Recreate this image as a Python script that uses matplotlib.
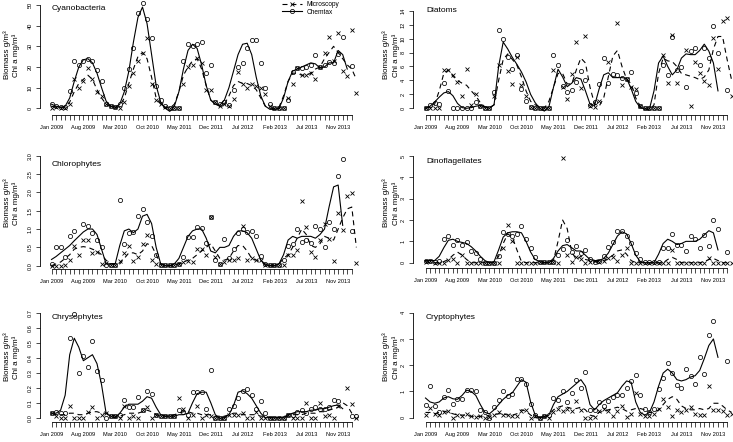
import numpy as np
import matplotlib
matplotlib.use('Agg')
import matplotlib.pyplot as plt
from matplotlib.lines import Line2D

plt.rcParams['font.family'] = ['Liberation Sans', 'DejaVu Sans']

nan = np.nan

# ---------------- data ----------------
tick_labels = ["Jan 2009", "Aug 2009", "Mar 2010", "Oct 2010", "May 2011",
               "Dec 2011", "Jul 2012", "Feb 2013", "Jul 2013", "Nov 2013"]
label_every = 7
n_ticks = 67

cy_chem = [2, 1, 0.5, 0.5, 8.6, 23, 21, 23, 24, 23,
           18.5, 13, 2, 1, 0.5, 2, 10, 19, 29, 46,
           51, 43, 34, 11, 4, 1, 0, 0, 0, 23,
           31, 30, 31, 32, 17, 21, 3, 2, 3, 1.5,
           9, 20, 22, 29, 33, 33, 22, 10, 2, 0,
           0, 0, 4, 17.5, 19.5, 19.5, 20, 21, 26, 20,
           21, 22.5, 22, 26.5, 34.5, nan, 20.5, nan]
cy_micro = [0.3, 0.5, 0.2, 0.3, 2, 14, 10, 13, 19.5, 14,
            8, 6, 2, 1, 0.5, 0, 3, 11, 17, 23,
            27, 34, 12, 4, 2, 0.5, 0, 0, 0, 12,
            20, 21, 24.5, 22, 9, 9, 3, 1, 2, 1,
            4.4, 17.5, 12, 10, 12, 11, 10, 7, 1, 0,
            0, 0, 5, 12, 19.5, 16, 16, 17, 14, 20,
            27, 34.5, 23, 36.5, 18, 15.5, 38, 7.5]
cy_chem_line = [2, 1, 0.5, 1, 5, 13, 20, 23.5, 24, 22,
                17, 10, 3.5, 1, 0.5, 2, 8, 18, 32, 44,
                49, 41, 26, 11, 3, 0, -1.5, 1, 8, 19,
                28, 31, 29, 21, 11, 4, 2, 1.5, 4, 10,
                18, 26, 31, 31.5, 26, 15, 6, 1, -0.5, -0.5,
                0, 5, 13, 18, 19, 20, 21, 22, 21.5, 19.5,
                20, 22, 22, 28, 26, 19, nan, nan]
cy_micro_line = [1, 0.5, 0.5, 0.5, 3, 8, 12, 14, 16, 14,
                 9, 5, 2, 1, 0, 1, 5, 12, 19, 25,
                 27, 24, 15, 5, 2, 0.5, 0, 2, 8, 16,
                 20, 23, 24, 19, 11, 4, 2, 1, 2, 6,
                 11, 13, 12, 12, 11, 9, 5, 1, 0, 0,
                 0.5, 6, 13, 17, 17, 16, 16, 17, 19, 20,
                 24, 27, 30, 27, 24, 21, 19, 14]

dia_chem = [0, 0.5, 0.7, 0.6, 3.7, 2.5, 0, 0, 0, 0,
            0, 0.9, 0.3, 0, 0, 2.3, 11.2, 9.9, 7.3, 5.7,
            7.7, 2.7, 1.1, 0.2, 0, 0, 0, 0, 7.7, 6.2,
            3.2, 2.4, 2.6, 3.8, 5.3, 4.0, 0.5, 0.9, 3.5, 7.2,
            3.7, 4.9, 4.8, 4.3, 4.2, 5.2, 2.2, 0.4, 0, 0,
            0, 0, 6.2, 4.8, 10.2, 5.5, 5.9, 3.0, 8.2, 8.7,
            6.2, 8.6, 7.2, 11.8, 8.0, nan, 2.6, nan]
dia_micro = [0, 0, 0, 0, 5.5, 5.5, 4.8, 3.8, 1.7, 5.7,
             0.5, 2.0, 0.3, 0, 0, 1.8, 6.2, nan, 5.3, 3.5,
             7.4, 3.3, 1.7, 0.2, 0, 0, 0, 0, 5.5, nan,
             3.1, 1.4, 4.9, 9.5, 2.9, 10.4, 0.3, 0.2, 1.0, nan,
             6.7, nan, 12.3, 3.3, 4.2, 3.0, 2.7, 0.3, 0, 0,
             0, 0, 7.6, 3.6, 10.5, 3.6, nan, 8.4, 0.4, 6.6,
             5.1, 3.9, 3.3, 10.1, 5.6, 12.5, 13.0, 1.7]
dia_chem_line = [0, 0.3, 0.9, 1.6, 2.2, 2.4, 1.8, 0.7, 0.1, 0,
                 0.1, 0.3, 0.4, 0.2, 0, 0.5, 6, 9.5, 8.5, 7.3,
                 6.3, 5.2, 3.8, 2, 0.8, 0, -0.4, 0.2, 3, 5.6,
                 4.5, 3.1, 3.6, 4.4, 4.2, 2.5, 0.6, 0.4, 2.8, 4.8,
                 5.1, 4.4, 4.4, 4.4, 4.3, 2.8, 1.0, 0.1, -0.1, -0.1,
                 2.5, 6.5, 7.5, 6.0, 4.8, 5.5, 7.2, 7.8, 7.7, 7.7,
                 8.3, 9.2, 8.2, 6.5, 2.5, nan, nan, nan]
dia_micro_line = [0, 0.2, 0.6, 2.5, 5.0, 5.5, 4.6, 4.0, 3.6, 3.3,
                  2.5, 1.8, 0.8, 0.2, 0.1, 0.5, 4, 7.0, 7.8, 7,
                  6.2, 4.5, 2.5, 1, 0.5, 0.2, 0, 1, 3, 5,
                  5, 3.5, 3.5, 5.5, 7.2, 6.5, 3, 0.6, 0.3, 1.5,
                  4.5, 7.5, 8.3, 6, 4.2, 3.5, 1.5, 0.3, 0, -0.3,
                  0.5, 5, 7.2, 6.8, 6.7, 6, 5, 4.8, 4.6, 4.4,
                  4.1, 4.5, 5.5, 8.5, 10.3, 10.3, 7, 4]

chl_chem = [0.05, 0.5, 0.5, 0.25, 0.8, 0.95, nan, 1.15, 1.08, 0.88,
            0.7, 0.5, 0.03, 0.03, 0.03, 1.78, 0.6, 0.9, 0.92, 1.35,
            1.55, 1.2, 0.82, 0.3, 0.02, 0.02, 0.02, 0.02, 0.05, 0.25,
            0.78, 0.78, 1.05, 1.03, 0.63, 1.33, 0.15, 0.05, 0.72, 0.2,
            0.45, 0.9, 1.0, 0.93, 0.95, 0.8, 0.27, 0.05, 0.03, 0.03,
            0.03, 0.15, 0.55, 0.6, 1.0, 0.65, 0.7, 0.62, 1.08, 1.0,
            0.5, 1.2, 1.0, 2.45, 2.9, nan, 0.95, nan]
chl_micro = [0.0, 0.0, 0.0, 0.03, 0.15, 0.55, 0.3, 0.7, 0.7, 0.35,
             0.38, 0.05, 0.08, 0.03, 0.03, 0.12, 0.35, 0.55, 0.12, 0.25,
             0.6, 0.85, 0.15, 0.05, 0.02, 0.02, 0.02, 0.02, 0.05, 0.1,
             0.12, 0.1, 0.45, 0.45, 0.3, 1.33, 0.25, 0.05, 0.1, 0.15,
             0.15, 0.2, 1.08, 0.15, 0.2, 0.15, 0.15, 0.03, 0.03, 0.03,
             0.03, 0.02, 0.3, 0.3, 0.42, 1.77, 1.05, 0.38, 0.25, 0.7,
             1.15, 0.72, 0.12, 1.45, 0.98, 1.9, 1.97, 0.08]
chl_chem_line = [0.17, 0.25, 0.35, 0.45, 0.55, 0.68, 0.8, 0.92, 1.0, 1.0,
                 0.85, 0.45, 0.05, 0.05, 0.05, 0.55, 0.95, 1.0, 0.9, 1.0,
                 1.35, 1.4, 1.15, 0.5, 0.05, 0.0, 0.0, 0.05, 0.2, 0.5,
                 0.8, 0.95, 1.0, 1.0, 0.75, 0.4, 0.35, 0.5, 0.5, 0.55,
                 0.8, 0.95, 0.95, 0.9, 0.75, 0.45, 0.15, 0.02, 0.0, 0.0,
                 0.05, 0.3, 0.7, 0.8, 0.75, 0.8, 0.8, 0.8, 0.75, 0.85,
                 1.0, 1.6, 2.15, 2.2, 1.1, nan, nan, nan]
chl_micro_line = [0.0, 0.05, 0.1, 0.2, 0.3, 0.45, 0.5, 0.52, 0.5, 0.45,
                  0.4, 0.3, 0.15, 0.05, 0.05, 0.05, 0.2, 0.35, 0.35, 0.3,
                  0.4, 0.6, 0.55, 0.3, 0.05, 0, 0, 0.02, 0.05, 0.1,
                  0.15, 0.2, 0.3, 0.4, 0.5, 0.6, 0.4, 0.2, 0.15, 0.2,
                  0.4, 0.55, 0.55, 0.4, 0.2, 0.15, 0.1, 0.05, 0.02, 0.0,
                  0.05, 0.2, 0.3, 0.5, 0.75, 1.0, 0.85, 0.55, 0.5, 0.6,
                  0.8, 0.75, 0.7, 1.0, 1.3, 1.55, 1.6, 0.5]

din_chem = [0.1, 0.1, 0.05, 0.08, 1.1, 1.27, 0.85, 1.05, 0.85, 0.95,
            0.55, 0.45, 0.15, 0.0, 0.0, 0.0, 0.3, 1.45, 1.35, 1.25,
            1.35, 1.7, 1.1, 0.7, 0.25, 0.05, 0.05, 0.05, 0.05, 0.35,
            0.65, 1.05, 0.5, 0.8, 0.45, 0.6, 0.15, 0.05, 0.1, 0.3,
            0.75, 0.95, 1.5, 1.5, 1.25, 0.9, 0.45, 0.15, 0.05, 0.05,
            0.05, 0.05, 0.7, 0.7, 1.35, 0.85, 0.85, 0.55, 1.25, 1.1,
            0.7, 1.3, 0.8, 2.0, 1.6, nan, 0.5, nan]
din_micro = [0.05, 0.1, 0.0, 0.0, 0.0, 0.12, 0.15, 0.0, 0.35, 0.0,
             0.0, 0.0, 0.0, 0.0, 0.0, 0.0, 0.0, 0.7, 1.75, 1.0,
             0.0, 0.0, 0.0, 0.0, 0.0, 0.05, 0.05, 0.05, 0.05, 0.0,
             4.9, 0.35, 0.05, 0.25, 0.15, 0.0, 0.05, 0.1, 0.05, 0.1,
             0.2, 0.25, 0.1, 0.35, 0.7, 0.0, 0.0, 0.0, 0.0, 0.0,
             0.0, 0.0, 0.0, 0.0, 0.6, 0.0, 0.0, 0.0, 0.0, 0.0,
             0.0, 0.0, 0.2, 0.0, 0.0, 0.0, 0.0, 0.0]
din_chem_line = [0.1, 0.1, 0.1, 0.3, 0.7, 1.05, 1.1, 1.0, 0.95, 0.9,
                 0.75, 0.55, 0.3, 0.1, 0.0, 0.05, 0.6, 1.2, 1.4, 1.45,
                 1.45, 1.4, 1.0, 0.5, 0.15, 0.05, 0, 0, 0.2, 0.55,
                 0.8, 0.85, 0.7, 0.55, 0.55, 0.35, 0.15, 0.1, 0.1, 0.2,
                 0.45, 0.85, 1.25, 1.45, 1.35, 0.9, 0.35, 0.05, 0, 0,
                 0, 0.4, 0.9, 1.1, 1.0, 0.85, 0.9, 1.0, 1.0, 1.0,
                 1.1, 1.3, 1.5, 1.4, 0.6, nan, nan, nan]
din_micro_line = [0.05, 0, 0, 0, 0.05, 0.15, 0.35, 0.5, 0.35, 0.15,
                  0, 0, 0, 0, 0, 0, 0.3, 0.9, 1.35, 1.2,
                  0.6, 0.05, 0, 0, 0, 0, 0, 0.02, 0.1, 1.0,
                  2.0, 1.6, 0.5, 0.15, 0.3, 0.15, 0.1, 0.05, 0.05, 0.1,
                  0.2, 0.35, 0.55, 0.6, 0.4, 0.1, 0, 0, 0, 0,
                  0, 0, 0, 0.15, 0.25, 0.15, 0, 0, 0, 0,
                  0, 0.05, 0.15, 0.2, 0.1, 0, 0, nan]

chr_chem = [0.03, 0.035, 0.03, 0.03, 0.53, 0.69, 0.3, 0.41, 0.34, 0.51,
            0.31, 0.25, 0.0, 0.01, 0.01, 0.02, 0.12, 0.07, 0.07, 0.14,
            0.05, 0.18, 0.16, 0.02, 0.01, 0.01, 0.01, 0.01, 0.05, 0.04,
            0.02, 0.17, 0.17, 0.17, 0.06, 0.32, 0.0, 0.0, 0.0, 0.06,
            0.08, 0.13, 0.18, 0.19, 0.15, 0.06, 0.11, 0.03, 0.0, 0.0,
            0.0, 0.0, 0.02, 0.02, 0.04, 0.05, 0.03, 0.06, 0.07, 0.06,
            0.06, 0.07, 0.12, 0.11, nan, nan, 0.01, 0.01]
chr_micro = [0.03, 0.01, 0.0, 0.0, 0.08, 0.0, 0.0, 0.0, 0.04, 0.07,
             0.0, 0.02, 0.03, 0.01, 0.01, 0.0, 0.08, 0.0, 0.01, 0.0,
             0.05, 0.07, 0.0, 0.02, 0.01, 0.01, 0.01, 0.01, 0.13, 0.06,
             0.0, 0.02, 0.08, 0.0, 0.02, 0.01, 0.0, 0.0, 0.0, 0.02,
             0.02, 0.02, 0.03, 0.0, 0.0, 0.04, 0.0, 0.0, 0.0, 0.0,
             0.0, 0.0, 0.02, 0.0, 0.0, 0.0, 0.1, 0.0, 0.0, 0.1,
             0.01, 0.02, 0.0, 0.08, nan, 0.2, 0.09, 0.0]
chr_chem_line = [0.03, 0.03, 0.05, 0.15, 0.42, 0.53, 0.47, 0.38, 0.4, 0.42,
                 0.36, 0.22, 0.03, 0.01, 0.0, 0.03, 0.07, 0.09, 0.09, 0.09,
                 0.11, 0.14, 0.13, 0.07, 0.02, 0.01, 0.01, 0.01, 0.02, 0.02,
                 0.03, 0.1, 0.16, 0.17, 0.17, 0.1, 0.02, -0.005, 0.0, 0.02,
                 0.08, 0.17, 0.18, 0.16, 0.13, 0.08, 0.03, 0.0, 0.0, 0.0,
                 0.0, 0.0, 0.02, 0.03, 0.04, 0.04, 0.04, 0.05, 0.05, 0.06,
                 0.06, 0.07, 0.08, 0.085, 0.06, nan, nan, nan]
chr_micro_line = [0.03, 0.02, 0.02, 0.02, 0.03, 0.03, 0.02, 0.02, 0.03, 0.04,
                  0.04, 0.03, 0.03, 0.02, 0.01, 0.01, 0.02, 0.03, 0.03, 0.03,
                  0.04, 0.05, 0.04, 0.02, 0.01, 0.01, 0.01, 0.02, 0.03, 0.04,
                  0.04, 0.03, 0.03, 0.02, 0.02, 0.02, 0.01, 0.01, 0.01, 0.02,
                  0.03, 0.03, 0.02, 0.02, 0.02, 0.02, 0.01, 0.01, 0.0, 0.0,
                  0.0, 0.01, 0.01, 0.02, 0.02, 0.02, 0.03, 0.03, 0.03, 0.04,
                  0.04, 0.05, 0.06, 0.07, 0.1, 0.08, 0.03, 0.02]

cry_chem = [0.48, 1.2, 0.45, 0.2, 0.8, 1.07, 0.52, 0.7, 0.72, 1.07,
            1.05, 1.0, 0.28, 0.2, 0.0, 0.42, 0.68, 1.0, 0.82, 0.9,
            1.47, 1.47, 1.3, 0.52, 0.1, 0.0, 0.05, 0.1, 0.75, 0.68,
            1.03, 0.6, 0.95, 1.43, 1.15, 1.75, 0.28, 0.3, 0.6, 0.45,
            0.65, 0.78, 0.88, 0.85, 1.15, 1.4, 1.62, 0.85, 0.35, 0.2,
            0.35, 1.1, 1.5, 2.1, 1.72, 1.25, 1.15, 1.85, 1.6, 1.3,
            2.3, 1.65, 3.15, 3.7, nan, nan, 2.15, nan]
cry_micro = [0.12, 0.38, 0.15, 0.1, 0.2, 0.25, 0.0, 0.1, 0.05, 0.15,
             0.05, 0.03, 0.05, 0.0, 0.02, 0.1, 0.2, 0.1, 0.1, 0.08,
             0.05, 0.25, 0.3, 0.0, 0.05, 0.0, 0.05, 0.0, 0.2, 0.35,
             0.25, 0.35, 0.25, 0.65, 0.3, 0.0, 0.0, 0.02, 0.25, 0.35,
             0.25, 0.05, 0.25, 0.45, 0.02, 0.15, 0.95, 0.15, 0.05, 0.05,
             0.15, 0.35, 0.7, 0.4, 0.05, 0.3, 0.2, 0.3, 0.4, 0.15,
             0.1, 0.1, 1.2, 0.3, 0.3, 0.25, 0.12, 0.15]
cry_chem_line = [0.75, 0.6, 0.55, 0.6, 0.75, 0.8, 0.72, 0.7, 0.85, 1.05,
                 1.0, 0.85, 0.5, 0.2, 0.15, 0.3, 0.5, 0.7, 0.85, 0.95,
                 1.2, 1.45, 1.35, 0.6, 0.1, 0.0, 0.05, 0.1, 0.5, 0.8,
                 0.9, 1.0, 1.15, 1.3, 1.45, 1.2, 0.5, 0.3, 0.5, 0.65,
                 0.75, 0.85, 0.95, 1.2, 1.4, 1.35, 0.6, 0.2, 0.1, 0.2,
                 0.6, 1.2, 1.7, 1.85, 1.7, 1.45, 1.4, 1.45, 1.55, 1.6,
                 1.8, 2.25, 2.75, 3.0, 2.3, nan, nan, nan]
cry_micro_line = [0.2, 0.2, 0.15, 0.2, 0.25, 0.2, 0.15, 0.1, 0.1, 0.1,
                  0.05, 0.05, 0.05, 0.05, 0.1, 0.12, 0.15, 0.15, 0.1, 0.1,
                  0.15, 0.3, 0.25, 0.1, 0.0, 0.0, 0.0, 0.1, 0.3, 0.4,
                  0.45, 0.4, 0.35, 0.35, 0.4, 0.3, 0.1, 0.05, 0.2, 0.25,
                  0.3, 0.35, 0.4, 0.35, 0.25, 0.3, 0.35, 0.35, 0.3, 0.2,
                  0.2, 0.3, 0.5, 0.7, 0.8, 0.7, 0.45, 0.35, 0.3, 0.3,
                  0.35, 0.3, 0.35, 0.55, 0.55, 0.45, 0.3, 0.2]

# y ticks per panel
cy_yticks = [0, 10, 20, 30, 40, 50]
dia_yticks = [0, 2, 4, 6, 8, 10, 12, 14]
chl_yticks = [0.0, 0.5, 1.0, 1.5, 2.0, 2.5, 3.0]
din_yticks = [0, 1, 2, 3, 4, 5]
chr_yticks = [0.0, 0.1, 0.2, 0.3, 0.4, 0.5, 0.6, 0.7]
cry_yticks = [0, 1, 2, 3, 4]

ylabel_text = 'Biomass g/m\u00b3\nChl a mg/m\u00b3'

# ---------------- layout ----------------
W, H = 733, 442
fig = plt.figure(figsize=(W / 100, H / 100), dpi=100)

cols = {
    'L': dict(axis_x=40.0, right=362.0, x0=51.5, dx=4.55, ylx=11.5),
    'R': dict(axis_x=413.0, right=733.0, x0=425.5, dx=4.57, ylx=391.0),
}
rows = {
    1: dict(top=0.0, ylab_y=55.0),
    2: dict(top=145.0, ylab_y=203.0),
    3: dict(top=300.0, ylab_y=357.0),
}

panels = [
    dict(title="Cyanobacteria", col='L', row=1, xaxis_y=114.5, y0=108.3, ytop_px=5.0,
         yticks=cy_yticks, fmt="{:.0f}", chem=cy_chem, micro=cy_micro,
         chem_line=cy_chem_line, micro_line=cy_micro_line, title_y=9.0),
    dict(title="Diatoms", col='R', row=1, xaxis_y=114.5, y0=108.3, ytop_px=10.7,
         yticks=dia_yticks, fmt="{:.0f}", chem=dia_chem, micro=dia_micro,
         chem_line=dia_chem_line, micro_line=dia_micro_line, title_y=10.0),
    dict(title="Chlorophytes", col='L', row=2, xaxis_y=269.0, y0=265.7, ytop_px=155.7,
         yticks=chl_yticks, fmt="{:.1f}", chem=chl_chem, micro=chl_micro,
         chem_line=chl_chem_line, micro_line=chl_micro_line, title_y=164.0),
    dict(title="Dinoflagellates", col='R', row=2, xaxis_y=268.0, y0=262.7, ytop_px=156.0,
         yticks=din_yticks, fmt="{:.0f}", chem=din_chem, micro=din_micro,
         chem_line=din_chem_line, micro_line=din_micro_line, title_y=161.7),
    dict(title="Chrysophytes", col='L', row=3, xaxis_y=421.7, y0=417.7, ytop_px=312.7,
         yticks=chr_yticks, fmt="{:.1f}", chem=chr_chem, micro=chr_micro,
         chem_line=chr_chem_line, micro_line=chr_micro_line, title_y=317.3),
    dict(title="Cryptophytes", col='R', row=3, xaxis_y=422.0, y0=417.7, ytop_px=312.7,
         yticks=cry_yticks, fmt="{:.0f}", chem=cry_chem, micro=cry_micro,
         chem_line=cry_chem_line, micro_line=cry_micro_line, title_y=317.3),
]

xlabels = []
for i in range(n_ticks):
    xlabels.append(tick_labels[i // label_every] if i % label_every == 0 else "")

lw = 0.8
for p in panels:
    c = cols[p['col']]
    r = rows[p['row']]
    ytop_val = p['yticks'][-1]
    ax = fig.add_axes([c['axis_x'] / W, 1 - p['xaxis_y'] / H,
                       (c['right'] - c['axis_x']) / W, (p['xaxis_y'] - r['top']) / H])
    ax.set_xlim((c['axis_x'] - c['x0']) / c['dx'], (c['right'] - c['x0']) / c['dx'])
    sy = (p['y0'] - p['ytop_px']) / ytop_val
    ax.set_ylim(-(p['xaxis_y'] - p['y0']) / sy, (p['y0'] - r['top']) / sy)
    ax.patch.set_visible(False)

    idx = np.arange(len(p['chem']))
    ax.plot(idx, p['chem_line'], color='k', lw=lw, ls='-', clip_on=False)
    ax.plot(idx, p['micro_line'], color='k', lw=lw, ls=(0, (4.5, 3.5)), clip_on=False)
    ax.plot(idx, p['chem'], ls='none', marker='o', ms=3.0, mfc='none', mec='k',
            mew=0.55, clip_on=False)
    ax.plot(idx, p['micro'], ls='none', marker='x', ms=3.0, color='k',
            mew=0.6, clip_on=False)

    for s in ('top', 'right'):
        ax.spines[s].set_visible(False)
    ax.spines['left'].set_bounds(0, ytop_val)
    ax.spines['bottom'].set_bounds(0, n_ticks - 1)
    for s in ('left', 'bottom'):
        ax.spines[s].set_linewidth(0.6)

    ax.set_xticks(np.arange(n_ticks))
    ax.set_xticklabels(xlabels)
    ax.set_yticks(p['yticks'])
    ax.set_yticklabels([p['fmt'].format(v) for v in p['yticks']])
    ax.tick_params(axis='x', length=3.4, width=0.5, pad=4.0, labelsize=4.1,
                   direction='out')
    ax.tick_params(axis='y', length=3.0, width=0.5, pad=2.2, labelsize=4.1,
                   labelrotation=90, direction='out')
    for t in ax.get_yticklabels():
        t.set_va('center')

    fig.text((c['x0'] + 0.5) / W, 1 - p['title_y'] / H, p['title'], fontsize=6,
             ha='left', va='center')
    fig.text(c['ylx'] / W, 1 - r['ylab_y'] / H, ylabel_text, fontsize=5.8,
             rotation=90, ha='center', va='center', multialignment='center',
             linespacing=1.3)

    if p['title'] == "Cyanobacteria":
        handles = [Line2D([], [], color='k', lw=lw, ls=(0, (4.5, 3.5)), marker='x',
                          ms=3.0, mew=0.6),
                   Line2D([], [], color='k', lw=lw, ls='-', marker='o', ms=3.0,
                          mfc='none', mew=0.55)]
        ax.legend(handles, ["Microscopy", "Chemtax"], loc='upper left',
                  bbox_to_anchor=(282 / W, 1 - 1.0 / H), bbox_transform=fig.transFigure,
                  frameon=False, fontsize=4.7, handlelength=3.0, handletextpad=0.8,
                  labelspacing=0.1, borderpad=0, borderaxespad=0, numpoints=1)

fig.savefig('out.png', dpi=100)
